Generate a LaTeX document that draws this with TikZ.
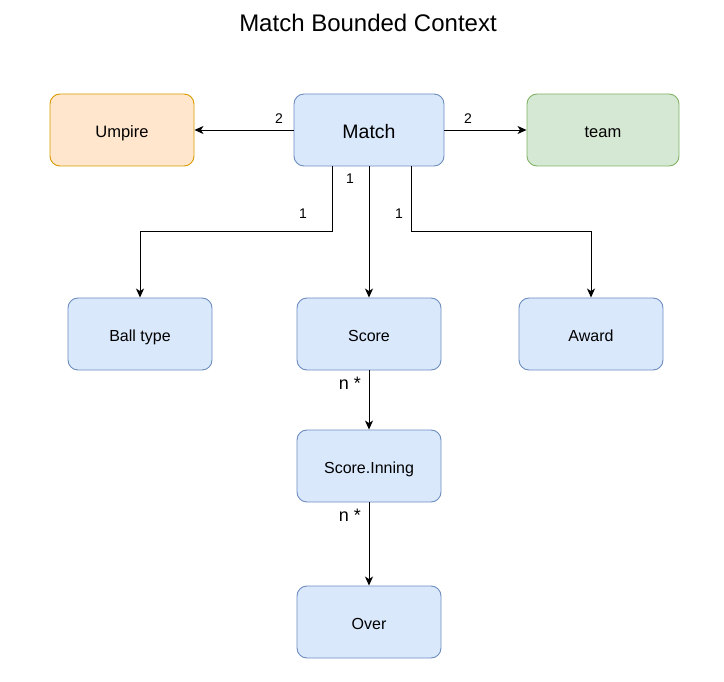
\documentclass[tikz,border=0pt]{standalone}
\usepackage{fontspec}
\setmainfont{Liberation Sans}
\usetikzlibrary{arrows.meta,calc}
\definecolor{bluefill}{HTML}{DAE8FC}
\definecolor{bluedraw}{HTML}{6C8EBF}
\definecolor{orangefill}{HTML}{FFE6CC}
\definecolor{orangedraw}{HTML}{D79B00}
\definecolor{greenfill}{HTML}{D5E8D4}
\definecolor{greendraw}{HTML}{82B366}
\tikzset{
  box/.style={draw=bluedraw,fill=bluefill,rounded corners=10pt,minimum width=144pt,minimum height=72pt,inner sep=0pt,font=\fontsize{16}{18}\selectfont,line width=0.9pt,text height=14.6pt,text depth=0pt},
  bigbox/.style={box,minimum width=150pt,font=\fontsize{19.5}{22}\selectfont,text height=17.6pt},
  obox/.style={box,draw=orangedraw,fill=orangefill,font=\fontsize{16.5}{19}\selectfont,text height=15pt},
  gbox/.style={box,draw=greendraw,fill=greenfill,minimum width=152pt,font=\fontsize{16.5}{19}\selectfont,text height=15pt},
  conn/.style={-{Stealth[length=9pt,width=8pt,inset=2.5pt]},line width=0.9pt},
  lab/.style={font=\fontsize{14}{16}\selectfont,inner sep=0pt},
  nlab/.style={font=\fontsize{18}{20}\selectfont,inner sep=0pt},
}
\begin{document}
\begin{tikzpicture}[x=1pt,y=-1pt]
\useasboundingbox (0,0) rectangle (724,682);
\node[font=\fontsize{24}{28}\selectfont] (title) at (368,23) {Match Bounded Context};
\node[obox] (umpire) at (122,130) {Umpire};
\node[bigbox] (match) at (369,130) {Match};
\node[gbox] (team) at (603,130) {team};
\node[box] (ball) at (140,334) {Ball type};
\node[box] (score) at (369,334) {Score};
\node[box] (award) at (591,334) {Award};
\node[box] (inning) at (369,466) {Score.Inning};
\node[box] (over) at (369,622) {Over};
\draw[conn] (match.west) -- (umpire.east);
\draw[conn] (match.east) -- (team.west);
\draw[conn] ([xshift=-37pt]match.south) |- ($(ball.north)+(0,-66)$) -- (ball.north);
\draw[conn] (match.south) -- (score.north);
\draw[conn] ([xshift=42pt]match.south) |- ($(award.north)+(0,-66)$) -- (award.north);
\draw[conn] (score.south) -- (inning.north);
\draw[conn] (inning.south) -- (over.north);
\node[lab] (l1) at (279,119) {2};
\node[lab] (l2) at (468,119) {2};
\node[lab] (l3) at (303,214) {1};
\node[lab] (l4) at (350,179) {1};
\node[lab] (l5) at (399,214) {1};
\node[nlab] (l6) at (350,383) {n *};
\node[nlab] (l7) at (350,515) {n *};
\end{tikzpicture}
\end{document}
